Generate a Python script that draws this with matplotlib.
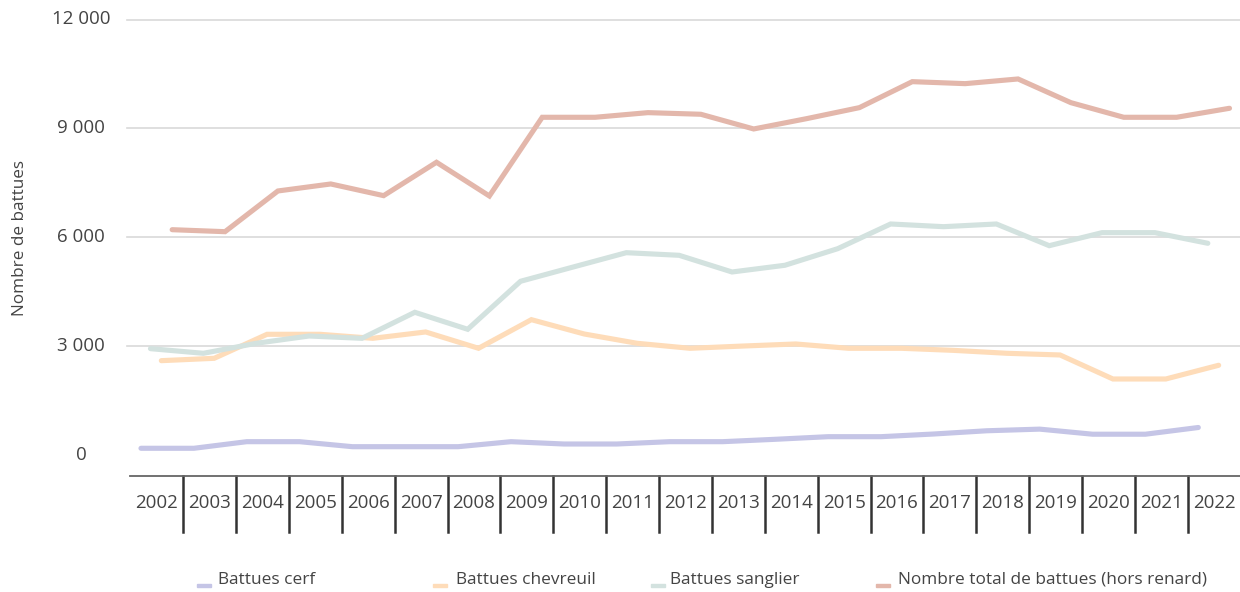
import matplotlib
matplotlib.use("Agg")
import matplotlib.pyplot as plt
from matplotlib import font_manager
from matplotlib.transforms import blended_transform_factory
from matplotlib.patches import Rectangle

years = [str(y) for y in range(2002, 2023)]
cerf = [182, 182, 364, 364, 226, 226, 226, 364, 300, 300, 364, 364, 430, 502, 502, 576, 665, 710, 570, 570, 755]
chevreuil = [2597, 2662, 3324, 3324, 3213, 3388, 2938, 3727, 3332, 3076, 2938, 3000, 3057, 2938, 2938, 2880, 2800, 2754, 2092, 2092, 2470]
sanglier = [2928, 2800, 3076, 3277, 3213, 3930, 3462, 4785, 5180, 5573, 5501, 5041, 5226, 5684, 6364, 6290, 6364, 5766, 6125, 6125, 5832]
total = [6207, 6152, 7274, 7467, 7145, 8065, 7136, 9305, 9305, 9433, 9388, 8983, 9267, 9571, 10287, 10232, 10361, 9708, 9305, 9305, 9553]
series_names = ["Battues cerf", "Battues chevreuil", "Battues sanglier",
                "Nombre total de battues (hors renard)"]
yticks = [0, 3000, 6000, 9000, 12000]
ytick_labels = ["0", "3 000", "6 000", "9 000", "12 000"]

colors = ["#c5c5e6", "#fedcb9", "#d3e2df", "#e3b7ab"]
offsets = [-0.30, 0.085, -0.12, 0.29]

def pick(fams):
    for f in fams:
        try:
            font_manager.findfont(f, fallback_to_default=False)
            return f
        except Exception:
            pass
    return "DejaVu Sans"

main_font = pick(["Open Sans", "Noto Sans"])
legend_font = pick(["Open Sans", "Noto Sans"])

W, H = 1240, 592
fig = plt.figure(figsize=(W / 100, H / 100), dpi=100)
left_px, right_px = 130.4, 1240.6
top_px, bot_px = 19.5, 475.5
ax = fig.add_axes([left_px / W, 1 - bot_px / H, (right_px - left_px) / W, (bot_px - top_px) / H])
ax.set_xlim(-0.5, 20.5)
ax.set_ylim(-568, 12000)
for s in ["top", "right", "left"]:
    ax.spines[s].set_visible(False)
ax.spines["bottom"].set_color("#666666")
ax.spines["bottom"].set_linewidth(1.3)
ax.set_xticks([])
ax.set_yticks([])

# gridlines
for v in yticks[1:]:
    ax.plot([-0.555, 20.5], [v, v], color="#d9d9d9", lw=1.2, clip_on=False, zorder=1)

# lines
data = [cerf, chevreuil, sanglier, total]
x = list(range(len(years)))
for vals, c, off in zip(data, colors, offsets):
    ax.plot([xi + off for xi in x], vals, color=c, lw=3.7, solid_capstyle="round",
            solid_joinstyle="miter", zorder=3)

# y tick labels
tf = blended_transform_factory(fig.transFigure, ax.transData)
for v, lab in zip(yticks, ytick_labels):
    ax.text(81 / W, v, lab, transform=tf, ha="center", va="center",
            fontsize=13.5, color="#444444", family=main_font)
fig.text(20 / W, 1 - 238 / H, "Nombre de battues", rotation=90, ha="center", va="center",
         fontsize=12.3, color="#444444", family=main_font)

# x labels and separators
tx = blended_transform_factory(ax.transData, fig.transFigure)
for i, lab in enumerate(years):
    ax.text(i, 1 - 503 / H, lab, transform=tx, ha="center", va="center",
            fontsize=13.5, color="#444444", family=main_font)
for i in range(len(years) - 1):
    ax.plot([i + 0.5, i + 0.5], [1 - 475.5 / H, 1 - 532 / H], transform=tx,
            color="#333333", lw=1.8, clip_on=False)

# legend
leg_items = [(197, 218), (433, 456), (651, 670), (876, 898)]
for (mx, tx0), c, name in zip(leg_items, colors, series_names):
    fig.patches.append(Rectangle((mx / W, 1 - 587 / H), 14 / W, 3 / H,
                                 transform=fig.transFigure, color=c))
    fig.text(tx0 / W, 1 - 580 / H, name, ha="left", va="center", fontsize=12.4,
             color="#444444", family=legend_font)

fig.savefig("out.png", dpi=100)
